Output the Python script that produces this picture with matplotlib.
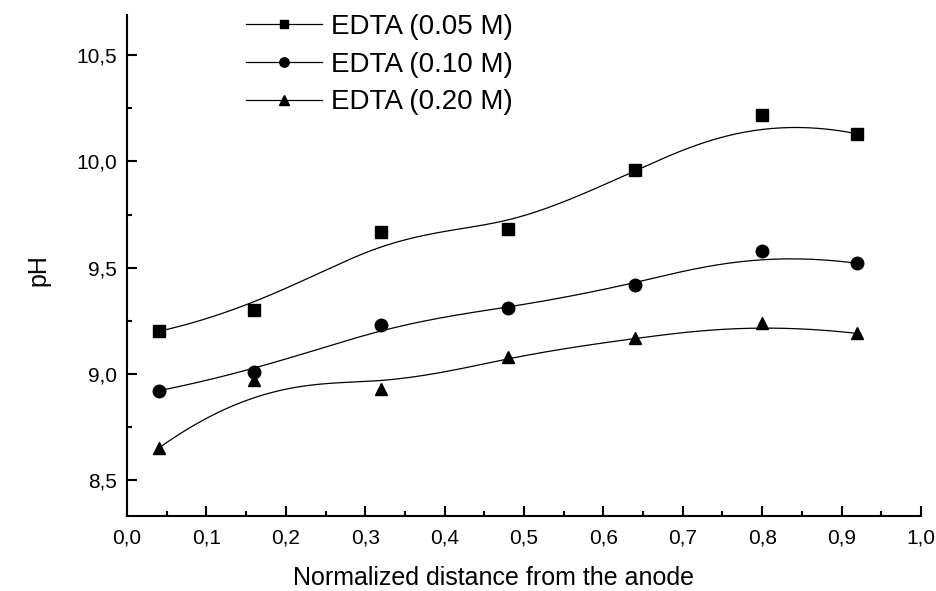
import numpy as np
import matplotlib.pyplot as plt
from matplotlib.ticker import MultipleLocator, FuncFormatter

plt.rcParams['font.family'] = ['Liberation Sans', 'DejaVu Sans']

# data
dist = [0.04, 0.16, 0.32, 0.48, 0.64, 0.80, 0.92]
ph_005 = [9.20, 9.30, 9.67, 9.68, 9.96, 10.22, 10.13]
ph_010 = [8.92, 9.01, 9.23, 9.31, 9.42, 9.58, 9.52]
ph_020 = [8.65, 8.97, 8.93, 9.08, 9.17, 9.24, 9.19]
labels = ['EDTA (0.05 M)', 'EDTA (0.10 M)', 'EDTA (0.20 M)']
markers = ['s', 'o', '^']


def bspline(xs, ys, npts=300):
    # clamped cubic B-spline using the data points as control points
    P = np.column_stack([xs, ys])
    n = len(P)
    k = 3
    knots = np.concatenate([np.zeros(k), np.arange(n - k + 1), np.full(k, n - k)]).astype(float)
    t = np.linspace(0, n - k, npts)
    t[-1] -= 1e-9
    out = []
    for tt in t:
        N = np.array([1.0 if knots[i] <= tt < knots[i + 1] else 0.0 for i in range(len(knots) - 1)])
        for d in range(1, k + 1):
            newN = np.zeros(len(knots) - d - 1)
            for i in range(len(newN)):
                a = 0.0
                if knots[i + d] != knots[i]:
                    a += (tt - knots[i]) / (knots[i + d] - knots[i]) * N[i]
                if knots[i + d + 1] != knots[i + 1]:
                    a += (knots[i + d + 1] - tt) / (knots[i + d + 1] - knots[i + 1]) * N[i + 1]
                newN[i] = a
            N = newN
        out.append(N @ P)
    out = np.array(out)
    return out[:, 0], out[:, 1]


fig = plt.figure(figsize=(9.37, 5.91), dpi=100)
ax = fig.add_axes([127 / 937, 75 / 591, 794 / 937, 501 / 591])

for ys, m, lab in zip([ph_005, ph_010, ph_020], markers, labels):
    cx, cy = bspline(dist, ys)
    ax.plot(cx, cy, color='black', lw=0.9)
    ms = 8 if m == 's' else 9
    ax.plot(dist, ys, ls='none', marker=m, ms=ms, color='black')
    ax.plot([], [], color='black', lw=0.9, marker=m, ms=ms * 0.75, label=lab)

ax.set_xlim(0, 1.0)
ax.set_ylim(8.33, 10.69)
ax.xaxis.set_major_locator(MultipleLocator(0.1))
ax.xaxis.set_minor_locator(MultipleLocator(0.05))
ax.yaxis.set_major_locator(MultipleLocator(0.5))
ax.yaxis.set_minor_locator(MultipleLocator(0.25))
ax.xaxis.set_major_formatter(FuncFormatter(lambda v, p: f'{v:.1f}'.replace('.', ',')))
ax.yaxis.set_major_formatter(FuncFormatter(lambda v, p: f'{v:.1f}'.replace('.', ',')))

for s in ['top', 'right']:
    ax.spines[s].set_visible(False)
for s in ['left', 'bottom']:
    ax.spines[s].set_linewidth(1.5)
ax.tick_params(which='major', direction='in', length=7, width=1.5, labelsize=15)
ax.tick_params(axis='x', which='major', pad=9)
ax.tick_params(axis='y', which='major', pad=7)
ax.tick_params(which='minor', direction='in', length=3.5, width=1.5)

ax.set_xlabel('Normalized distance from the anode', fontsize=18, va='center')
ax.xaxis.set_label_coords(0.461, -0.124)
ax.set_ylabel('pH', fontsize=18, va='center')
ax.yaxis.set_label_coords(-0.112, 0.491)

ax.legend(loc='upper left', bbox_to_anchor=(0.15, 1.002), frameon=False, fontsize=20,
          handlelength=2.73, handletextpad=0.32, labelspacing=0.42, borderpad=0,
          borderaxespad=0)

fig.savefig('out.png', dpi=100)
